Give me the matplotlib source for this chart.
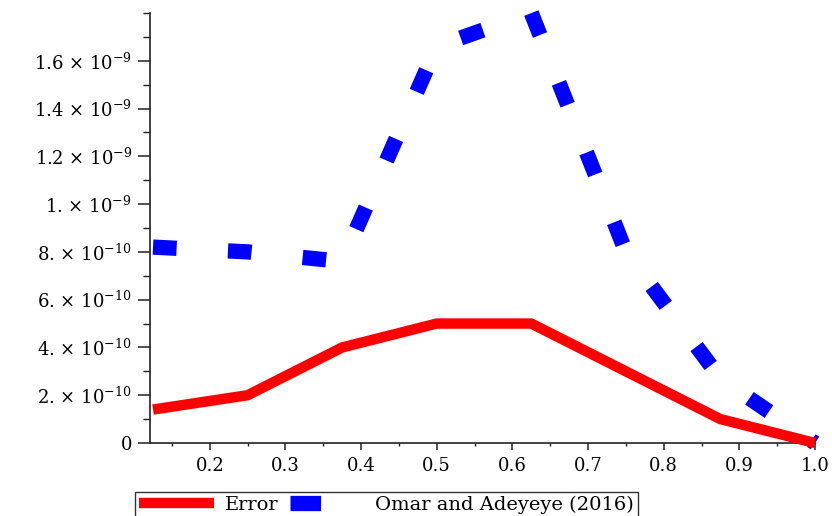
import matplotlib
matplotlib.use('Agg')
import matplotlib.pyplot as plt
from matplotlib.lines import Line2D
from matplotlib.ticker import MultipleLocator

plt.rcParams.update({
    'font.family': 'DejaVu Serif',
    'mathtext.fontset': 'dejavuserif',
    'lines.scale_dashes': False,
})

# ==========================================
# DATA
# ==========================================
x_nodes = [0.125, 0.25, 0.375, 0.5, 0.625, 0.75, 0.875, 1.0]
error_vals = [1.4e-10, 2.0e-10, 4.0e-10, 5.0e-10, 5.0e-10, 3.0e-10, 1.0e-10, 0.0]
omar_vals = [8.2e-10, 8.0e-10, 7.6e-10, 1.66e-9, 1.8e-9, 8.0e-10, 2.7e-10, 0.0]

y_ticks = [0, 2e-10, 4e-10, 6e-10, 8e-10, 1e-9, 1.2e-9, 1.4e-9, 1.6e-9]
y_labels = ['0', '2. × 10$^{-10}$', '4. × 10$^{-10}$', '6. × 10$^{-10}$',
            '8. × 10$^{-10}$', '1. × 10$^{-9}$', '1.2 × 10$^{-9}$',
            '1.4 × 10$^{-9}$', '1.6 × 10$^{-9}$']
x_ticks = [0.2, 0.3, 0.4, 0.5, 0.6, 0.7, 0.8, 0.9, 1.0]
x_labels = ['0.2', '0.3', '0.4', '0.5', '0.6', '0.7', '0.8', '0.9', '1.0']

series_labels = ['Error', 'Omar and Adeyeye (2016)']

# ==========================================
# PLOT
# ==========================================
fig = plt.figure(figsize=(8.32, 5.16), dpi=100)
ax = fig.add_axes([150 / 832, 1 - 443 / 516, 665 / 832, 430 / 516])

red = '#ff0000'
blue = '#0000ff'

ax.plot(x_nodes, error_vals, color=red, lw=7.5, solid_joinstyle='miter',
        solid_capstyle='butt', clip_on=False, zorder=3)
ax.plot(x_nodes, omar_vals, color=blue, lw=11, linestyle=(0, (17, 37)),
        dash_capstyle='butt', clip_on=False, zorder=2)

ax.set_xlim(0.121, 1.0)
ax.set_ylim(0, 1.8e-9)

ax.set_xticks(x_ticks)
ax.set_xticklabels(x_labels)
ax.set_yticks(y_ticks)
ax.set_yticklabels(y_labels)
ax.xaxis.set_minor_locator(MultipleLocator(0.05))
ax.yaxis.set_minor_locator(MultipleLocator(1e-10))

for side in ['top', 'right']:
    ax.spines[side].set_visible(False)
for side in ['left', 'bottom']:
    ax.spines[side].set_linewidth(1.2)
    ax.spines[side].set_color('#222222')

ax.tick_params(axis='y', which='major', length=9, width=1.1, pad=4,
               labelsize=13, color='#222222')
ax.tick_params(axis='y', which='minor', length=5, width=1.0, color='#222222')
ax.tick_params(axis='x', which='major', length=5, width=1.1, pad=5,
               labelsize=13, color='#222222')
ax.tick_params(axis='x', which='minor', length=2.5, width=1.0, color='#222222')

# Legend (boxed, below the plot, bottom edge cropped by the figure)
handles = [Line2D([], [], color=red, lw=7.5, solid_capstyle='butt'),
           Line2D([], [], color=blue, lw=11, linestyle=(0, (22, 60)), dash_capstyle='butt')]
leg = fig.legend(handles, series_labels, loc='upper left', ncol=2,
                 bbox_to_anchor=(135 / 832, 1 - 492 / 516), bbox_transform=fig.transFigure,
                 fontsize=14, frameon=True, fancybox=False, edgecolor='black',
                 handlelength=3.85, handletextpad=0.55, columnspacing=0.6,
                 borderpad=0.2, borderaxespad=0)
leg.get_frame().set_linewidth(1.0)

fig.savefig('out.png', dpi=100)
